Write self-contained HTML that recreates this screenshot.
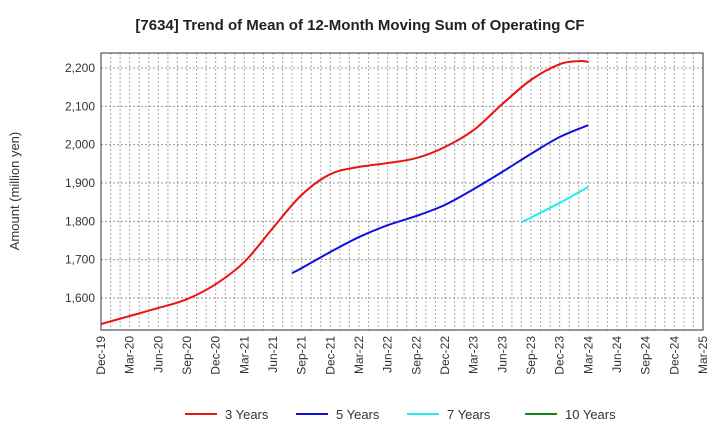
<!DOCTYPE html>
<html><head><meta charset="utf-8"><style>
body{margin:0;background:#fff;font-family:"Liberation Sans",sans-serif}
svg text{font-family:"Liberation Sans",sans-serif}
</style></head><body>
<svg id="c" width="720" height="440" xmlns="http://www.w3.org/2000/svg"></svg>
<script>
const xTickLabels=["Dec-19","Mar-20","Jun-20","Sep-20","Dec-20","Mar-21","Jun-21","Sep-21","Dec-21","Mar-22","Jun-22","Sep-22","Dec-22","Mar-23","Jun-23","Sep-23","Dec-23","Mar-24","Jun-24","Sep-24","Dec-24","Mar-25"];
const yTicks=[1600,1700,1800,1900,2000,2100,2200];
const s3Months=[0,3,6,9,12,15,18,21,24,27,30,33,36,39,42,45,48,50,51];
const s3Values=[1532,1553,1574,1597,1636,1694,1783,1869,1923,1942,1952,1965,1994,2038,2106,2169,2210,2218,2216];
const s5Months=[20,21,24,27,30,33,36,39,42,45,48,51];
const s5Values=[1665,1678,1720,1759,1790,1814,1843,1884,1929,1976,2020,2051];
const s7Months=[44,45,48,51];
const s7Values=[1798,1810,1848,1890];
const series=[{name:"3 Years",color:"#ee1111",m:s3Months,v:s3Values},{name:"5 Years",color:"#1111dd",m:s5Months,v:s5Values},{name:"7 Years",color:"#22eeee",m:s7Months,v:s7Values},{name:"10 Years",color:"#118811",m:[],v:[]}];
const L=101,R=703,T=53,B=330;
const x=m=>L+m*(R-L)/63;
const y=v=>68+(2200-v)*38.333/100;
const svg=document.getElementById('c');const NS="http://www.w3.org/2000/svg";
function el(t,a,p){const e=document.createElementNS(NS,t);for(const k in a)e.setAttribute(k,a[k]);(p||svg).appendChild(e);return e;}
const title=el('text',{x:360,y:30,'text-anchor':'middle','font-size':15,'font-weight':'bold',fill:'#222'});title.textContent="[7634]  Trend of Mean of 12-Month Moving Sum of Operating CF";

for(let m=1;m<63;m++){const g=el('line',{x1:x(m),x2:x(m),y1:T,y2:B,stroke:'#aaa','stroke-dasharray':'2,2','stroke-width':1});}
yTicks.forEach(v=>{const g=el('line',{x1:L,x2:R,y1:y(v),y2:y(v),stroke:'#999','stroke-dasharray':'2,2'});
const t=el('text',{x:L-6,y:y(v)+4,'text-anchor':'end','font-size':12,fill:'#333'});t.textContent=v.toLocaleString('en-US');});
const fr=el('rect',{x:L,y:T,width:R-L,height:B-T,fill:'none',stroke:'#333'});
xTickLabels.forEach((s,i)=>{const xx=x(i*3);const t=el('text',{transform:`translate(${xx+4},${B+6}) rotate(-90)`,'text-anchor':'end','font-size':12,fill:'#333'});t.textContent=s;});
const yt=el('text',{transform:'translate(19,191) rotate(-90)','text-anchor':'middle','font-size':13,fill:'#333'});yt.textContent="Amount (million yen)";
function path(ms,vs){const p=ms.map((m,i)=>[x(m),y(vs[i])]);if(!p.length)return"";let d=`M${p[0][0]},${p[0][1]}`;for(let i=0;i<p.length-1;i++){const p0=p[i-1]||p[i],p1=p[i],p2=p[i+1],p3=p[i+2]||p2;d+=` C${p1[0]+(p2[0]-p0[0])/6},${p1[1]+(p2[1]-p0[1])/6} ${p2[0]-(p3[0]-p1[0])/6},${p2[1]-(p3[1]-p1[1])/6} ${p2[0]},${p2[1]}`;}return d;}
series.forEach((s,i)=>{if(s.m.length){const pe=el('path',{d:path(s.m,s.v),fill:'none',stroke:s.color,'stroke-width':2});}
const lx=[185,296,407,525][i];const g=el('g',{});
el('line',{x1:lx,x2:lx+32,y1:414,y2:414,stroke:s.color,'stroke-width':2},g);const t=el('text',{x:lx+40,y:419,'font-size':13,fill:'#333'},g);t.textContent=s.name;});
</script></body></html>
